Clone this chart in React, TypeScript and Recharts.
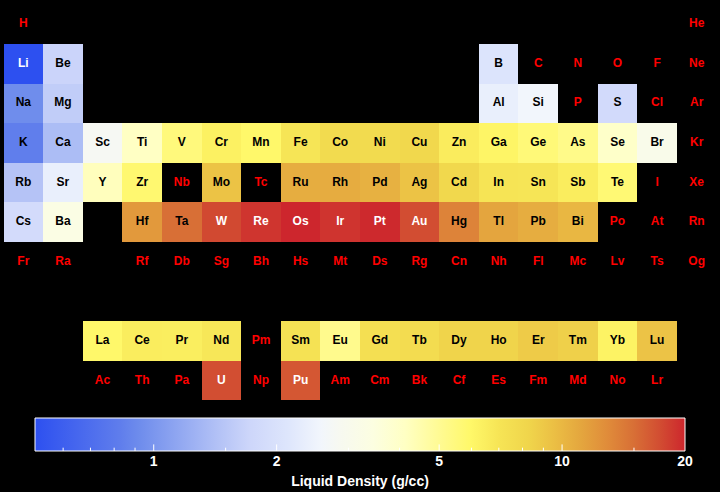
import React from 'react';
import {
  ScatterChart,
  Scatter,
  ComposedChart,
  XAxis,
  YAxis,
  ReferenceArea,
  ReferenceLine,
} from 'recharts';

// element symbols, by atomic number
const SYMBOLS = [
  'H', 'He', 'Li', 'Be', 'B', 'C', 'N', 'O', 'F', 'Ne', 'Na', 'Mg', 'Al', 'Si', 'P', 'S', 'Cl', 'Ar',
  'K', 'Ca', 'Sc', 'Ti', 'V', 'Cr', 'Mn', 'Fe', 'Co', 'Ni', 'Cu', 'Zn', 'Ga', 'Ge', 'As', 'Se', 'Br', 'Kr',
  'Rb', 'Sr', 'Y', 'Zr', 'Nb', 'Mo', 'Tc', 'Ru', 'Rh', 'Pd', 'Ag', 'Cd', 'In', 'Sn', 'Sb', 'Te', 'I', 'Xe',
  'Cs', 'Ba', 'La', 'Ce', 'Pr', 'Nd', 'Pm', 'Sm', 'Eu', 'Gd', 'Tb', 'Dy', 'Ho', 'Er', 'Tm', 'Yb', 'Lu',
  'Hf', 'Ta', 'W', 'Re', 'Os', 'Ir', 'Pt', 'Au', 'Hg', 'Tl', 'Pb', 'Bi', 'Po', 'At', 'Rn',
  'Fr', 'Ra', 'Ac', 'Th', 'Pa', 'U', 'Np', 'Pu', 'Am', 'Cm', 'Bk', 'Cf', 'Es', 'Fm', 'Md', 'No', 'Lr',
  'Rf', 'Db', 'Sg', 'Bh', 'Hs', 'Mt', 'Ds', 'Rg', 'Cn', 'Nh', 'Fl', 'Mc', 'Lv', 'Ts', 'Og',
];

// liquid density near melting point (g/cc), null = no data
const LIQUID_DENSITY: (number | null)[] = [
  null, null, 0.512, 1.69, 2.08, null, null, null, null, null, 0.927, 1.584, 2.375, 2.57, null, 1.819, null, null,
  0.828, 1.378, 2.8, 4.11, 5.5, 6.3, 5.95, 6.98, 7.75, 7.81, 8.02, 6.57, 6.095, 5.6, 5.22, 3.99, 3.1028, null,
  1.46, 2.375, 4.24, 5.8, null, 9.33, null, 10.65, 10.7, 10.38, 9.32, 7.996, 7.02, 6.99, 6.53, 5.7, null, null,
  1.843, 3.338, 5.94, 6.55, 6.5, 6.89, null, 7.16, 5.13, 7.4, 7.65, 8.37, 8.34, 8.86, 8.56, 6.21, 9.3,
  12, 15, 17.6, 18.9, 20, 19, 19.77, 17.31, 13.534, 11.22, 10.66, 10.05, null, null, null,
  null, null, null, null, null, 17.3, null, 16.63, null, null, null, null, null, null, null, null, null,
  null, null, null, null, null, null, null, null, null, null, null, null, null, null, null,
];

const DENSITY_MIN = 0.512;
const DENSITY_MAX = 20;
const MAJOR_TICKS = [1, 2, 5, 10, 20];
const MINOR_TICKS = [0.6, 0.7, 0.8, 0.9, 1.5, 3, 4, 6, 7, 8, 9, 15];

// colormap stops along the log-normalised density
const COLOR_STOPS: [number, [number, number, number]][] = [
  [0.0, [45, 80, 240]],
  [0.13, [95, 125, 236]],
  [0.16, [110, 140, 236]],
  [0.28, [178, 193, 246]],
  [0.33, [205, 214, 250]],
  [0.39, [222, 230, 252]],
  [0.44, [242, 246, 252]],
  [0.47, [247, 249, 240]],
  [0.52, [252, 254, 225]],
  [0.57, [255, 255, 195]],
  [0.63, [255, 250, 140]],
  [0.67, [255, 248, 105]],
  [0.715, [246, 228, 85]],
  [0.76, [240, 213, 75]],
  [0.8, [235, 190, 68]],
  [0.84, [228, 166, 62]],
  [0.88, [224, 140, 58]],
  [0.92, [216, 112, 54]],
  [0.96, [210, 78, 50]],
  [1.0, [205, 38, 45]],
];

const W = 720;
const TABLE_H = 404;
const BAR_H = 88;
const TABLE_MARGIN = { top: 4.4, right: 3.5, bottom: 3.6, left: 3.5 };
const CELL_W = (W - TABLE_MARGIN.left - TABLE_MARGIN.right) / 18;
const CELL_H = (TABLE_H - TABLE_MARGIN.top - TABLE_MARGIN.bottom) / 10;
const FONT = '"Liberation Sans", Arial, Helvetica, sans-serif';

const norm = (v: number) =>
  Math.min(1, Math.max(0, Math.log(v / DENSITY_MIN) / Math.log(DENSITY_MAX / DENSITY_MIN)));

const colorAt = (t: number): [number, number, number] => {
  for (let i = 1; i < COLOR_STOPS.length; i++) {
    const [t1, c1] = COLOR_STOPS[i];
    const [t0, c0] = COLOR_STOPS[i - 1];
    if (t <= t1) {
      const f = (t - t0) / (t1 - t0);
      return [0, 1, 2].map((k) => Math.round(c0[k] + (c1[k] - c0[k]) * f)) as [number, number, number];
    }
  }
  return COLOR_STOPS[COLOR_STOPS.length - 1][1];
};

const rgb = (c: [number, number, number]) => `rgb(${c[0]},${c[1]},${c[2]})`;

// group / period position in the standard layout (f-block on rows 9 and 10)
const place = (z: number) => {
  if (z === 1) return { col: 1, row: 1 };
  if (z === 2) return { col: 18, row: 1 };
  if (z <= 18) {
    const start = z <= 10 ? 3 : 11;
    const i = z - start;
    return { col: i < 2 ? i + 1 : i + 11, row: z <= 10 ? 2 : 3 };
  }
  if (z <= 36) return { col: z - 18, row: 4 };
  if (z <= 54) return { col: z - 36, row: 5 };
  const base = z <= 86 ? 54 : 86;
  const row = z <= 86 ? 6 : 7;
  const i = z - base;
  if (i <= 2) return { col: i, row };
  if (i <= 17) return { col: i, row: row + 3 };
  return { col: i - 14, row };
};

const cells = SYMBOLS.map((symbol, i) => ({
  symbol,
  density: LIQUID_DENSITY[i],
  ...place(i + 1),
}));

const ElementCell = (props: any) => {
  const { cx, cy, payload } = props;
  const d = payload.density;
  let fill: string | null = null;
  let textColor = '#ff0000';
  if (d != null) {
    const c = colorAt(norm(d));
    fill = rgb(c);
    const lum = 0.299 * c[0] + 0.587 * c[1] + 0.114 * c[2];
    textColor = lum < 128 ? '#ffffff' : '#000000';
  }
  return (
    <g>
      {fill && (
        <rect
          x={cx - CELL_W / 2}
          y={cy - CELL_H / 2}
          width={CELL_W}
          height={CELL_H}
          fill={fill}
          shapeRendering="crispEdges"
        />
      )}
      <text
        x={cx}
        y={cy + 3}
        textAnchor="middle"
        fill={textColor}
        fontFamily={FONT}
        fontWeight="bold"
        fontSize={12}
      >
        {payload.symbol}
      </text>
    </g>
  );
};

// the two corners of the colour bar, so both axes have data to span
const barExtent = [
  { v: DENSITY_MIN, y: 0 },
  { v: DENSITY_MAX, y: 1 },
];

const NoShape = () => <g />;

export default function App() {
  return (
    <div style={{ position: 'absolute', left: 0, top: 0, width: W, height: TABLE_H + BAR_H, background: '#000' }}>
      <ScatterChart width={W} height={TABLE_H} margin={TABLE_MARGIN}>
        <XAxis type="number" dataKey="col" domain={[0.5, 18.5]} hide />
        <YAxis type="number" dataKey="row" domain={[0.5, 10.5]} reversed hide />
        <Scatter data={cells} shape={<ElementCell />} isAnimationActive={false} />
      </ScatterChart>
      <ComposedChart width={W} height={BAR_H} margin={{ top: 14, right: 35, bottom: 0, left: 35 }}>
        <defs>
          <linearGradient id="densityGradient" x1="0" y1="0" x2="1" y2="0">
            {COLOR_STOPS.map(([t, c]) => (
              <stop key={t} offset={t} stopColor={rgb(c)} />
            ))}
          </linearGradient>
        </defs>
        <XAxis
          type="number"
          dataKey="v"
          scale="log"
          domain={[DENSITY_MIN, DENSITY_MAX]}
          allowDataOverflow
          ticks={MAJOR_TICKS}
          height={41}
          axisLine={false}
          tickLine={false}
          tickSize={5}
          tickMargin={0}
          tick={{ fill: '#ffffff', fontSize: 14, fontWeight: 'bold', fontFamily: FONT }}
          label={{
            value: 'Liquid Density (g/cc)',
            position: 'insideBottom',
            offset: 6,
            fill: '#ffffff',
            fontSize: 14,
            fontWeight: 'bold',
            fontFamily: FONT,
          }}
        />
        <YAxis type="number" dataKey="y" domain={[0, 1]} allowDataOverflow hide />
        <Scatter data={barExtent} shape={<NoShape />} isAnimationActive={false} />
        <ReferenceArea
          x1={DENSITY_MIN}
          x2={DENSITY_MAX}
          y1={0}
          y2={1}
          ifOverflow="visible"
          fill="url(#densityGradient)"
          fillOpacity={1}
          stroke="#ffffff"
          strokeWidth={1}
        />
        {MINOR_TICKS.map((v) => (
          <ReferenceLine
            key={`m${v}`}
            ifOverflow="visible"
            segment={[{ x: v, y: 0 }, { x: v, y: 0.1 }]}
            stroke="#ffffff"
            strokeWidth={1}
          />
        ))}
        {MAJOR_TICKS.slice(0, -1).map((v) => (
          <ReferenceLine
            key={`M${v}`}
            ifOverflow="visible"
            segment={[{ x: v, y: 0 }, { x: v, y: 0.2 }]}
            stroke="#ffffff"
            strokeWidth={1}
          />
        ))}
      </ComposedChart>
    </div>
  );
}
